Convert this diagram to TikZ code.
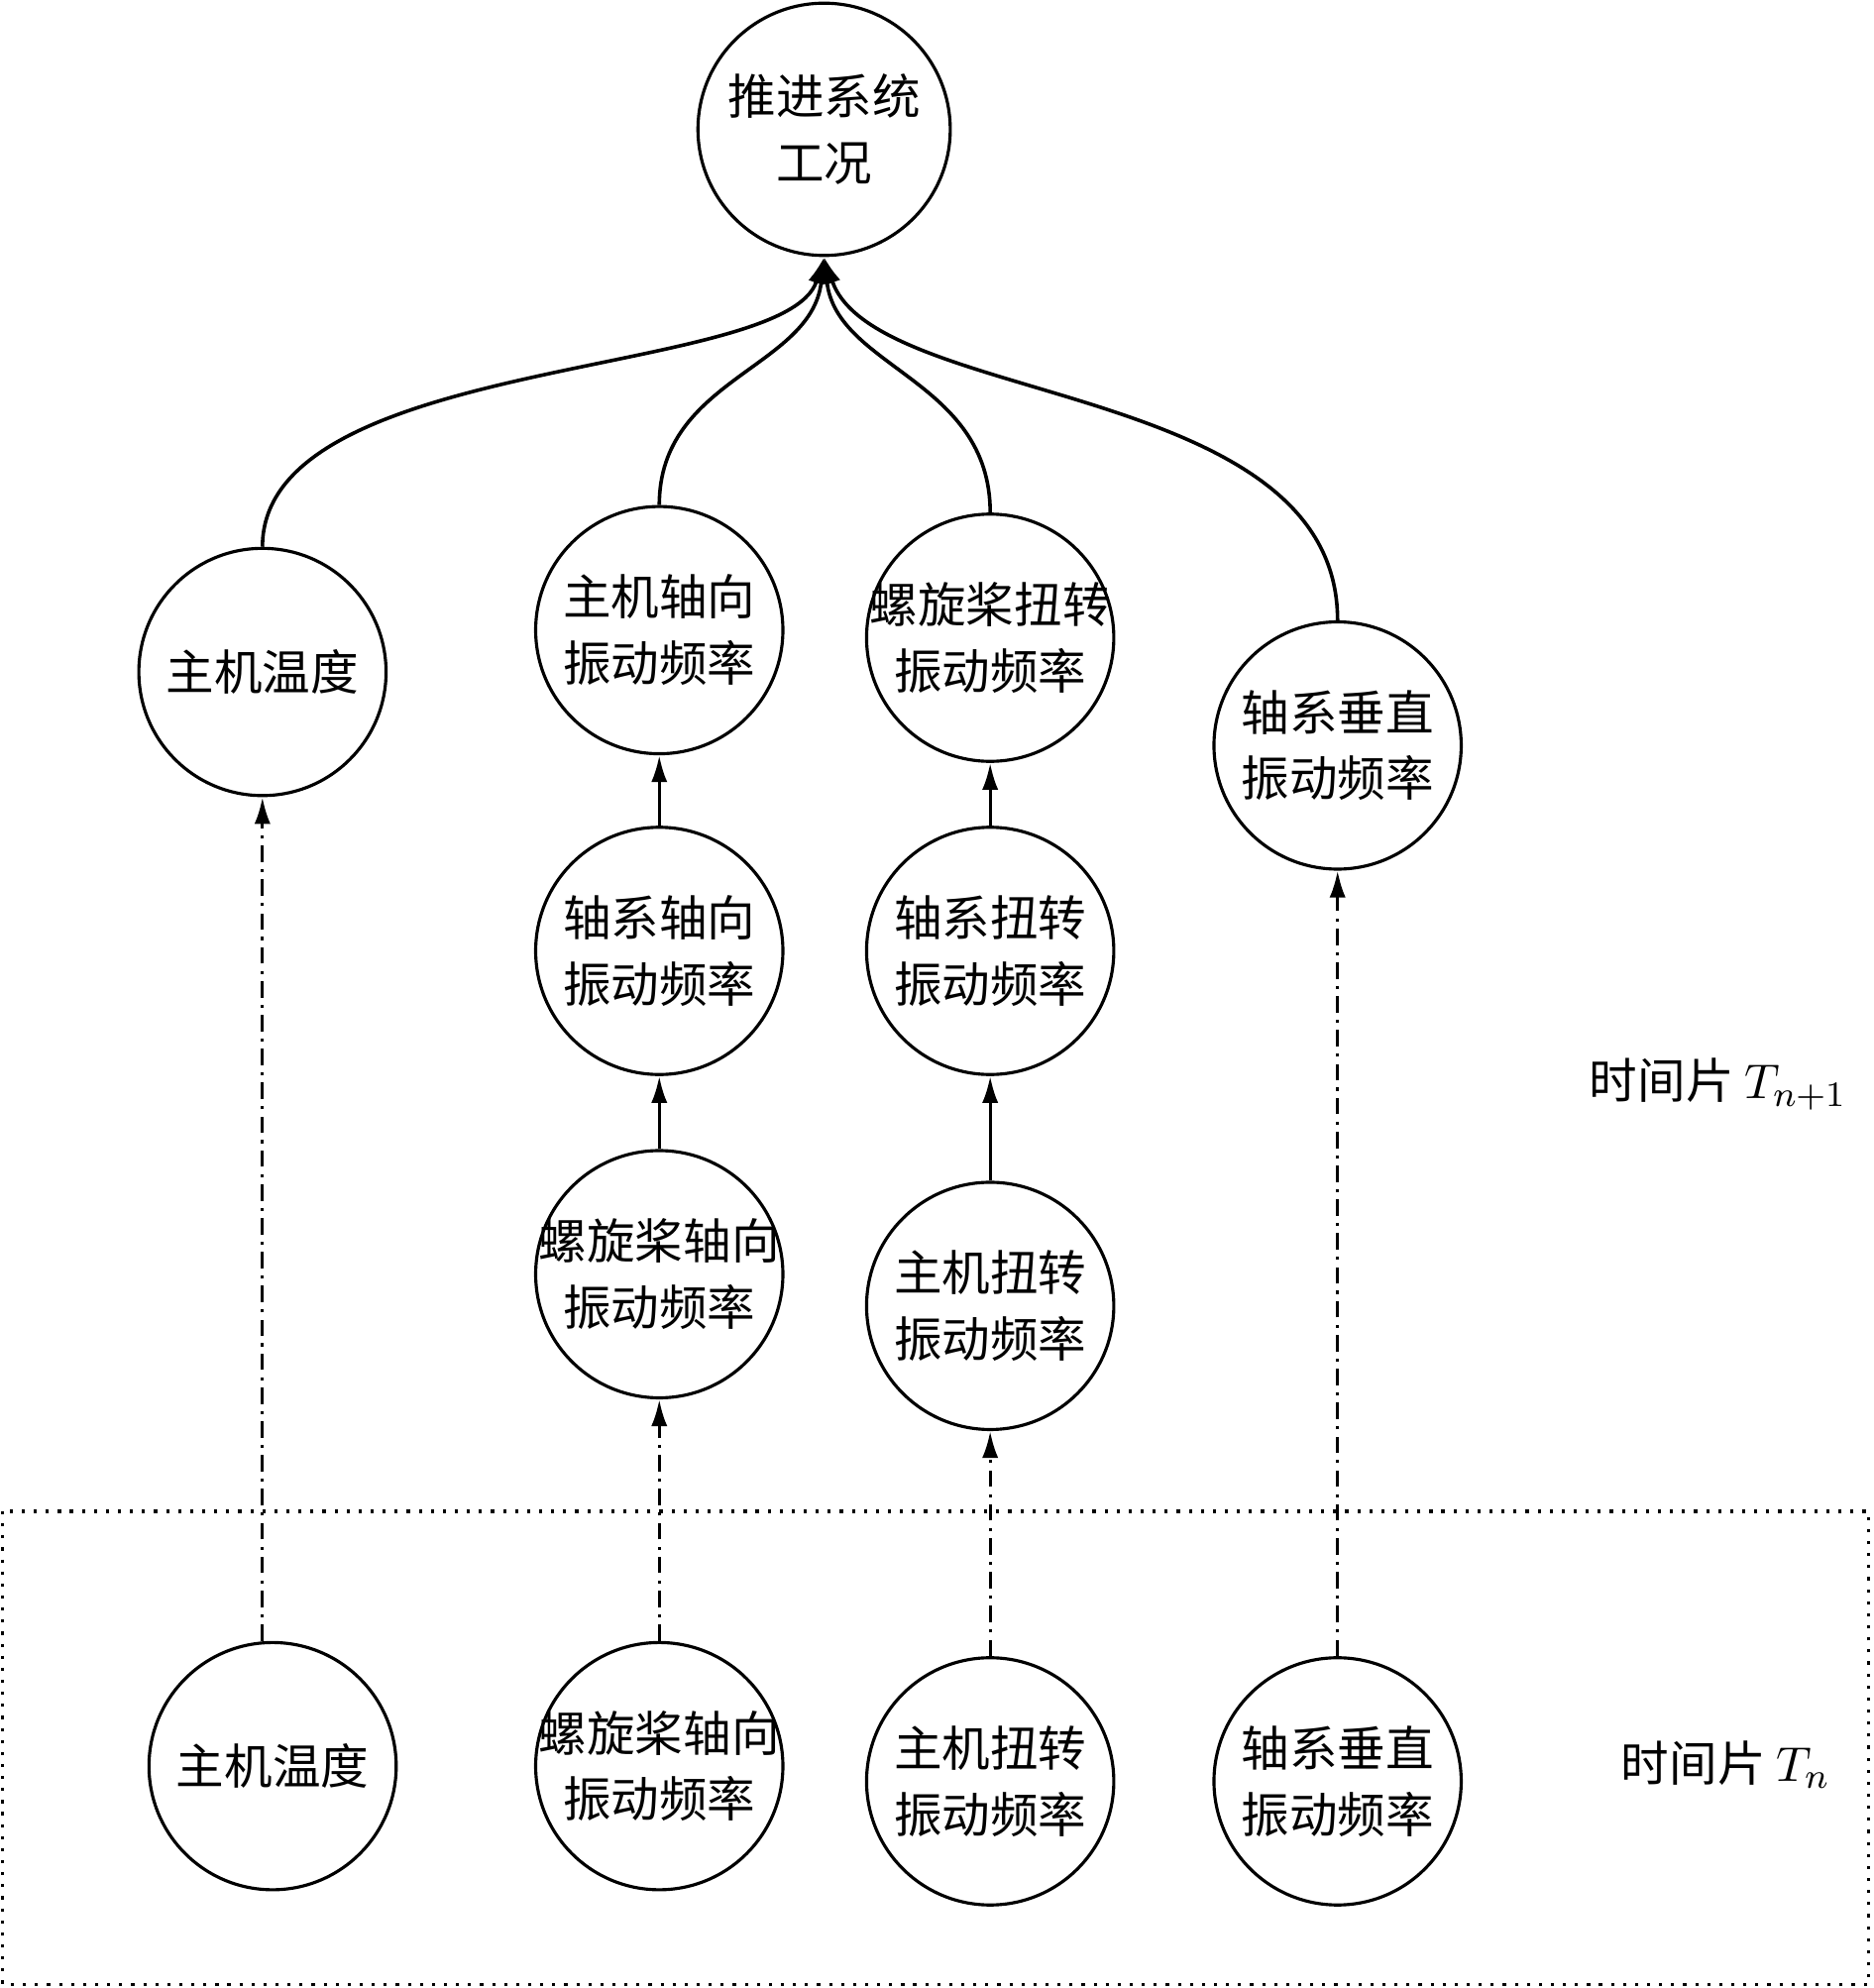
\documentclass[tikz,border=0pt]{standalone}
\usepackage{fontspec}
\setmainfont{Liberation Serif}
\newfontfamily\cjk{Noto Sans CJK SC}
\usepackage{tikz}
\usetikzlibrary{positioning, arrows.meta}

% 宽标签不撑大圆
\newcommand{\tightline}[1]{\makebox[1.2cm]{#1}}

\begin{document}
\begin{tikzpicture}[
                var/.style={circle, draw, line width=0.7pt, minimum size=1.95cm, inner sep=0pt, align=center,
                            font=\cjk\fontsize{10.8}{14.8}\selectfont},
                goal/.style={var, minimum size=1.99cm},
                edge/.style={->, >={Latex[length=6pt,width=3.6pt]}, line width=0.7pt},
                link/.style={edge, dash pattern=on 3.7pt off 1.6pt on 0.7pt off 1.6pt},
                tree/.style={edge, line width=0.8pt},
                slice/.style={font=\cjk\fontsize{10.8}{14.8}\selectfont, anchor=west, inner sep=0pt}
            ]
                \useasboundingbox (0,0) rectangle (14.78,-15.68);

                % 时间片 T_n 的范围
                \draw[dotted, line width=0.7pt] (0.02,-11.92) rectangle (14.74,-15.65);

                % 目标节点
                \node[goal] (top) at (6.50,-1.02) {推进系统\\工况};

                % 时间片 T_{n+1}
                \node[var] (mA) at (2.07,-5.30) {主机温度};
                \node[var] (mB) at (5.20,-4.97) {主机轴向\\振动频率};
                \node[var] (mC) at (7.81,-5.03) {\tightline{螺旋桨扭转}\\振动频率};
                \node[var] (mD) at (10.55,-5.88) {轴系垂直\\振动频率};
                \node[var] (sB) at (5.20,-7.50) {轴系轴向\\振动频率};
                \node[var] (sC) at (7.81,-7.50) {轴系扭转\\振动频率};
                \node[var] (pB) at (5.20,-10.05) {\tightline{螺旋桨轴向}\\振动频率};
                \node[var] (pC) at (7.81,-10.30) {主机扭转\\振动频率};

                % 时间片 T_n
                \node[var] (tA) at (2.15,-13.93) {主机温度};
                \node[var] (tB) at (5.20,-13.93) {\tightline{螺旋桨轴向}\\振动频率};
                \node[var] (tC) at (7.81,-14.05) {主机扭转\\振动频率};
                \node[var] (tD) at (10.55,-14.05) {轴系垂直\\振动频率};

                \node[slice] (lab1) at (12.53,-8.55) {时间片 $T_{n+1}$};
                \node[slice] (lab0) at (12.78,-13.92) {时间片 $T_n$};

                % 汇聚到目标节点
                \draw[tree] (mA.north) .. controls +(0,1.52) and +(-0.30,-0.96) .. (top.south);
                \draw[tree] (mB.north) .. controls +(0,1.00) and +(-0.10,-0.88) .. (top.south);
                \draw[tree] (mC.north) .. controls +(0,1.05) and +(0.10,-0.88) .. (top.south);
                \draw[tree] (mD.north) .. controls +(0,1.90) and +(0.40,-1.18) .. (top.south);

                % 时间片内的传递
                \draw[edge] (sB) -- (mB);
                \draw[edge] (pB) -- (sB);
                \draw[edge] (sC) -- (mC);
                \draw[edge] (pC) -- (sC);

                % 时间片之间的传递
                \draw[link] (mA.south |- tA.north) -- (mA.south);
                \draw[link] (tB) -- (pB);
                \draw[link] (tC) -- (pC);
                \draw[link] (tD) -- (mD);

            \end{tikzpicture}
\end{document}
